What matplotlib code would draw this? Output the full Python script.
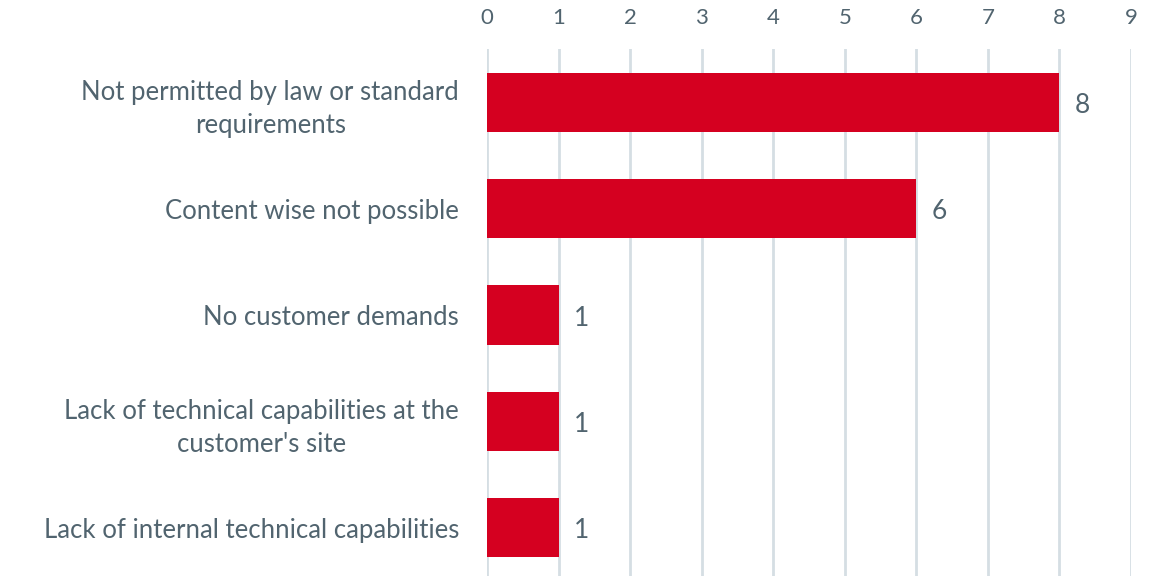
import matplotlib.pyplot as plt

categories = [
    "Not permitted by law or standard\nrequirements",
    "Content wise not possible",
    "No customer demands",
    "Lack of technical capabilities at the\ncustomer's site",
    "Lack of internal technical capabilities",
]
counts = [8, 6, 1, 1, 1]
xticks = list(range(0, 10))

BAR = "#D50020"
TXT = "#51646F"
GRID = "#D5DEE3"

plt.rcParams['font.family'] = ['Lato', 'DejaVu Sans']

fig = plt.figure(figsize=(11.49, 5.76), dpi=100)
ax = fig.add_axes([487 / 1149, 1 - 581 / 576, 644 / 1149, 532 / 576])

ypos = list(range(len(categories)))
bars = ax.barh(ypos, counts, height=0.555, color=BAR, zorder=3)
for y, v in zip(ypos, counts):
    ax.text(v + 0.22, y + 0.03, str(v), va='center', ha='left', fontsize=19, color=TXT)

ax.set_xlim(0, 9)
ax.set_ylim(4.5, -0.5)
ax.set_xticks(xticks)
ax.xaxis.tick_top()
ax.set_yticks(ypos)
ax.set_yticklabels(categories, fontsize=18.5, color=TXT, multialignment='center',
                   linespacing=1.4)
ax.tick_params(axis='x', length=0, pad=15, labelsize=16, labelcolor=TXT)
ax.tick_params(axis='y', length=0, pad=20)
ax.grid(axis='x', color=GRID, linewidth=2, zorder=0)
for s in ax.spines.values():
    s.set_visible(False)

fig.savefig("out.png", dpi=100)
